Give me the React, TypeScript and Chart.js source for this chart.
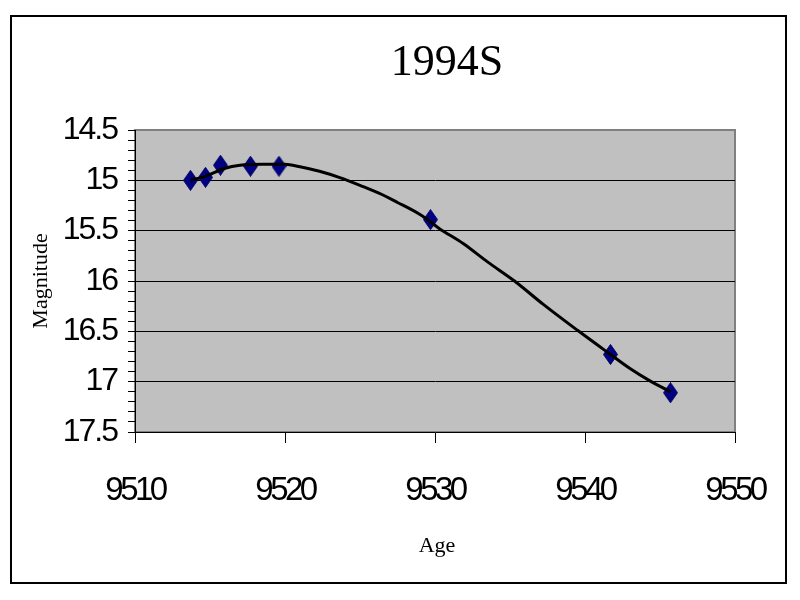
import React, { useEffect, useRef } from "react";
import { Chart, registerables } from "chart.js";

Chart.register(...registerables);

const TITLE = "1994S";
const X_TITLE = "Age";
const Y_TITLE = "Magnitude";

// observed points
const obsAge = [9513.7, 9514.7, 9515.7, 9517.7, 9519.6, 9529.7, 9541.7, 9545.7];
const obsMag = [15.0, 14.97, 14.85, 14.86, 14.86, 15.39, 16.73, 17.11];

// trendline
const trendAge = [
  9513.7, 9514.7, 9516, 9517, 9518.5, 9520, 9521, 9522.3, 9523.7, 9525, 9526.3, 9527.5,
  9529, 9530.3, 9531.9, 9533.5, 9535.3, 9537.2, 9539.5, 9541.7, 9543, 9544.3, 9545.7,
];
const trendMag = [
  15.0, 14.96, 14.88, 14.85, 14.84, 14.84, 14.865, 14.91, 14.975, 15.05, 15.13, 15.22,
  15.34, 15.48, 15.63, 15.81, 16.0, 16.23, 16.49, 16.73, 16.87, 16.99, 17.1,
];

const xTickValues = [9510, 9520, 9530, 9540, 9550];
const yTickLabels = [14.5, 15, 15.5, 16, 16.5, 17, 17.5];

const TICK_FONT = "'Liberation Sans', Arial, sans-serif";
const SERIF = "'Liberation Serif', 'Times New Roman', serif";

function makeDiamond(): HTMLCanvasElement {
  const c = document.createElement("canvas");
  const w = 15;
  const h = 21;
  c.width = w;
  c.height = h;
  const g = c.getContext("2d")!;
  g.beginPath();
  g.moveTo(w / 2, 0.5);
  g.lineTo(w - 0.5, h / 2);
  g.lineTo(w / 2, h - 0.5);
  g.lineTo(0.5, h / 2);
  g.closePath();
  g.fillStyle = "#000080";
  g.fill();
  g.strokeStyle = "#00006a";
  g.lineWidth = 1;
  g.stroke();
  return c;
}

const decorPlugin = {
  id: "decor",
  beforeDraw(chart: any) {
    const { ctx, chartArea } = chart;
    ctx.save();
    ctx.fillStyle = "#ffffff";
    ctx.fillRect(0, 0, chart.width, chart.height);
    ctx.strokeStyle = "#000000";
    ctx.lineWidth = 2;
    ctx.strokeRect(11, 16, 775, 567);
    ctx.fillStyle = "#c0c0c0";
    ctx.fillRect(chartArea.left, chartArea.top, chartArea.right - chartArea.left, chartArea.bottom - chartArea.top);
    ctx.strokeStyle = "#808080";
    ctx.lineWidth = 2;
    ctx.strokeRect(chartArea.left, chartArea.top, chartArea.right - chartArea.left, chartArea.bottom - chartArea.top);
    ctx.fillStyle = "#000000";
    ctx.font = `44px ${SERIF}`;
    ctx.textAlign = "center";
    ctx.textBaseline = "alphabetic";
    ctx.fillText(TITLE, 447, 75);
    ctx.restore();
    // tight spacing for y tick labels (drawn before datasets)
    (ctx as any).letterSpacing = "-2px";
  },
  beforeDatasetsDraw(chart: any) {
    (chart.ctx as any).letterSpacing = "0px";
  },
  afterDatasetsDraw(chart: any) {
    // tight spacing for x tick labels (drawn after datasets, ticks.z = 1)
    (chart.ctx as any).letterSpacing = "-3.5px";
  },
  afterDraw(chart: any) {
    const { ctx, chartArea } = chart;
    (ctx as any).letterSpacing = "0px";
    ctx.save();
    ctx.fillStyle = "#000000";
    ctx.font = `22px ${SERIF}`;
    ctx.textAlign = "center";
    ctx.textBaseline = "middle";
    ctx.fillText(X_TITLE, (chartArea.left + chartArea.right) / 2 + 2, 546);
    ctx.translate(41, (chartArea.top + chartArea.bottom) / 2);
    ctx.rotate(-Math.PI / 2);
    ctx.fillText(Y_TITLE, 0, 0);
    ctx.restore();
  },
};

export default function App() {
  const ref = useRef<HTMLCanvasElement | null>(null);

  useEffect(() => {
    if (!ref.current) return;
    const diamond = makeDiamond();
    const isMajor = (v: number) => yTickLabels.some((t) => Math.abs(t - v) < 1e-6);
    const chart = new Chart(ref.current, {
      type: "scatter",
      data: {
        datasets: [
          {
            label: "Trend",
            data: trendAge.map((x, i) => ({ x, y: trendMag[i] })),
            showLine: true,
            borderColor: "#000000",
            borderWidth: 3,
            pointRadius: 0,
            tension: 0.4,
            cubicInterpolationMode: "monotone",
            fill: false,
          } as any,
          {
            label: TITLE,
            data: obsAge.map((x, i) => ({ x, y: obsMag[i] })),
            pointStyle: diamond,
            pointRadius: 10,
            showLine: false,
          } as any,
        ],
      },
      options: {
        animation: false,
        responsive: false,
        events: [],
        layout: { padding: { left: 0, right: 65, top: 130, bottom: 0 } },
        plugins: {
          legend: { display: false },
          tooltip: { enabled: false },
          title: { display: false },
        },
        scales: {
          x: {
            type: "linear",
            min: 9510,
            max: 9550,
            afterFit: (s: any) => {
              s.height = 168;
            },
            afterBuildTicks: (s: any) => {
              s.ticks = xTickValues.map((v) => ({ value: v }));
            },
            ticks: {
              z: 1,
              autoSkip: false,
              maxRotation: 0,
              padding: 28,
              color: "#000000",
              font: { family: TICK_FONT, size: 33 },
              callback: (v: any) => String(v),
            },
            grid: {
              drawOnChartArea: false,
              drawTicks: true,
              tickLength: 11,
              tickColor: "#000000",
              color: "#000000",
            },
            border: { display: true, color: "#000000", width: 1 },
            title: { display: false, text: X_TITLE },
          },
          y: {
            type: "linear",
            reverse: true,
            min: 14.5,
            max: 17.5,
            afterFit: (s: any) => {
              s.width = 135;
            },
            ticks: {
              stepSize: 0.1,
              autoSkip: false,
              padding: 11,
              color: "#000000",
              font: { family: TICK_FONT, size: 32 },
              callback: (v: any) => {
                const n = Number(v);
                return isMajor(n) ? String(Math.round(n * 10) / 10) : "";
              },
            },
            grid: {
              drawTicks: true,
              tickLength: 7,
              tickColor: "#000000",
              color: (c: any) => {
                const v = c.tick ? c.tick.value : NaN;
                if (!isMajor(v)) return "rgba(0,0,0,0)";
                if (Math.abs(v - 14.5) < 1e-6 || Math.abs(v - 17.5) < 1e-6) return "rgba(0,0,0,0)";
                return "#000000";
              },
              lineWidth: 1,
            },
            border: { display: true, color: "#000000", width: 1 },
            title: { display: false, text: Y_TITLE },
          },
        },
      },
      plugins: [decorPlugin],
    });
    return () => chart.destroy();
  }, []);

  return (
    <div style={{ position: "fixed", left: 0, top: 0, width: 800, height: 600, background: "#fff" }}>
      <canvas ref={ref} width={800} height={600} style={{ display: "block", width: 800, height: 600 }} />
    </div>
  );
}
